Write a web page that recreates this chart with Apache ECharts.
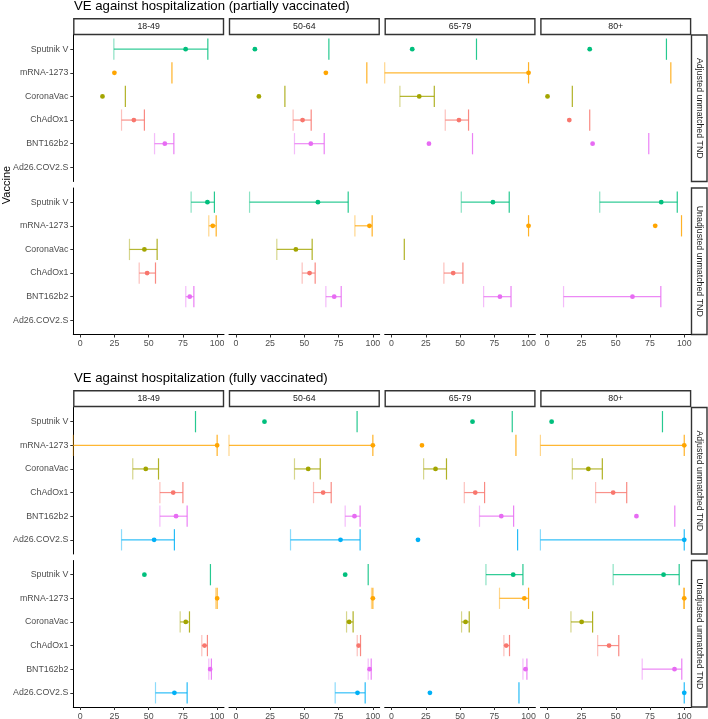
<!DOCTYPE html>
<html>
<head>
<meta charset="utf-8">
<script src="https://cdn.jsdelivr.net/npm/echarts@6/dist/echarts.min.js"></script>
<style>html,body{margin:0;padding:0;background:#fff}#c{width:708px;height:719px}</style>
</head>
<body>
<div id="c"></div>
<script>
// ---------- data ----------
const vaccines = ['Sputnik V','mRNA-1273','CoronaVac','ChAdOx1','BNT162b2','Ad26.COV2.S'];
const vaccineColors = ['#00BF7D','#FFA500','#A3A500','#F8766D','#E76BF3','#00B0F6'];
const ageGroups = ['18-49','50-64','65-79','80+'];
const rowLabels = ['Adjusted unmatched TND','Unadjusted unmatched TND'];
const panelTitles = ['VE against hospitalization (partially vaccinated)','VE against hospitalization (fully vaccinated)'];
const xTicks = [0,25,50,75,100];

// partially vaccinated, adjusted: [age group][vaccine]
const partAdjEst = [[77,25,16.3,39.2,61.8,null],[13.9,65.7,16.8,48.7,54.7,null],[15.1,100,20.2,49.2,27.3,null],[31,null,0.2,16.1,33.1,null]];
const partAdjLo  = [[24.6,null,null,30.2,54.3,null],[null,null,null,41.8,42.8,null],[null,-5,6.1,39.2,null,null],[null,null,null,null,null,null]];
const partAdjHi  = [[93.2,67,33,46.9,68.4,null],[67.9,95.6,35.8,55,64.5,null],[62,100,31.2,56.2,59.1,null],[87,90.2,18.3,31,74.1,null]];
// partially vaccinated, unadjusted
const partUnadjEst = [[92.9,96.8,46.9,48.9,80,null],[59.9,97.5,43.8,53.8,71.8,null],[74,100,null,45,79.1,null],[83.2,78.8,null,null,62.2,null]];
const partUnadjLo  = [[81,93.9,36,43.1,77.1,null],[10,86.9,29.9,48.4,65.7,null],[50.9,null,null,38.2,67.2,null],[38.3,null,null,null,11.9,null]];
const partUnadjHi  = [[98,99.3,56.2,55,83,null],[82,99.5,55.7,57.9,76.9,null],[85.9,100,9.3,52.1,87.2,null],[94.9,98,null,null,82.9,null]];
// fully vaccinated, adjusted
const fullAdjEst = [[null,100,47.9,67.9,70,54],[20.9,100,52.8,63.7,86.6,76.4],[59.1,22.2,32.1,61.1,80.1,19.3],[3.2,100,30,48.1,65.1,100]];
const fullAdjLo  = [[null,-5,38.4,58.2,58.2,30.2],[null,-5,42.8,56.7,79.8,39.9],[null,null,23.4,53.1,64.2,null],[null,-5,18.3,35.3,null,-5]];
const fullAdjHi  = [[84.2,100,57.2,75,78.1,68.8],[88.5,100,61.6,69.6,90.7,90.7],[88.1,90.8,40.1,67.9,89.1,92],[84.1,100,40.2,58,93.1,100]];
// fully vaccinated, unadjusted
const fullUnadjEst = [[46.9,100,77.1,90.8,94.9,68.8],[79.8,100,82.7,89.6,97.6,88.8],[88.8,96.9,54,83.7,97.8,28],[84.9,100,25.1,45.1,92.9,100]];
const fullUnadjLo  = [[null,99,73,88.8,93.9,55],[null,99,80.8,88.6,96.6,72.5],[68.9,78.8,51.1,82,95.9,null],[48.1,99.5,17.3,36.8,69.3,null]];
const fullUnadjHi  = [[95.1,100,79.8,92.9,95.8,78.1],[96.6,100,85.6,91,98.8,94.4],[95.9,100,56.7,86.1,98.8,93],[96.3,100,33.1,52.2,98.2,100]];

const blocks = [
  [partAdjEst, partAdjLo, partAdjHi],
  [partUnadjEst, partUnadjLo, partUnadjHi],
  [fullAdjEst, fullAdjLo, fullAdjHi],
  [fullUnadjEst, fullUnadjLo, fullUnadjHi]
];

// ---------- layout ----------
const FONT = '"Liberation Sans", Arial, Helvetica, sans-serif';
const colLeft0 = 73.3, colPitch = 155.7, colW = 150.7;
const rowTops = [35, 188, 407.5, 560.5], rowH = 146.5;
const stripTops = [18.7, 390.7], stripH = 15.8;
const titleTops = [-0.5, 371.5];

const grids = [], xAxes = [], yAxes = [], series = [];
const XMIN = -5, XMAX = 105;

function renderItem(params, api) {
  const yi = api.value(0);
  const est = api.value(1), lo = api.value(2), hi = api.value(3);
  const col = vaccineColors[yi - 1];
  const clampX = v => Math.max(XMIN, Math.min(XMAX, v));
  const half = 0.45;
  const children = [];
  const ok = v => v !== null && v !== undefined && !isNaN(v);
  if (ok(lo) && ok(hi)) {
    const a = api.coord([clampX(lo), yi]), b = api.coord([clampX(hi), yi]);
    children.push({type:'line', shape:{x1:a[0],y1:a[1],x2:b[0],y2:b[1]}, style:{stroke:col,lineWidth:1.2,opacity:0.8}});
  }
  function cap(v, op) {
    const t = api.coord([clampX(v), yi - half]), bt = api.coord([clampX(v), yi + half]);
    children.push({type:'line', shape:{x1:t[0],y1:t[1],x2:bt[0],y2:bt[1]}, style:{stroke:col,lineWidth:1.2,opacity:op}});
  }
  if (ok(lo)) cap(lo, 0.45);
  if (ok(hi)) cap(hi, 0.85);
  if (ok(est)) {
    const p = api.coord([est, yi]);
    children.push({type:'circle', shape:{cx:p[0],cy:p[1],r:2.4}, style:{fill:col}});
  }
  return {type:'group', children};
}

let gi = 0;
for (let b = 0; b < 4; b++) {
  const isBottomRow = (b % 2) === 1;
  const [E, L, H] = blocks[b];
  for (let c = 0; c < 4; c++) {
    grids.push({left: colLeft0 + c * colPitch, top: rowTops[b], width: colW, height: rowH, containLabel: false, outerBoundsMode: 'none'});
    xAxes.push({
      gridIndex: gi, type: 'value', min: XMIN, max: XMAX,
      axisLine: {show: isBottomRow, onZero: false, lineStyle: {color: '#000', width: 1}},
      axisTick: {show: isBottomRow, length: 3, lineStyle: {color: '#333'}, customValues: xTicks},
      axisLabel: {show: isBottomRow, margin: 5, color: '#4D4D4D', fontSize: 8.8, fontFamily: FONT, customValues: xTicks},
      splitLine: {show: false}
    });
    yAxes.push({
      gridIndex: gi, type: 'value', min: 0.4, max: 6.6, inverse: true,
      axisLine: {show: c === 0, onZero: false, lineStyle: {color: '#000', width: 1}},
      axisTick: {show: c === 0, length: 3, lineStyle: {color: '#333'}, customValues: [1,2,3,4,5,6]},
      axisLabel: {show: c === 0, margin: 5, color: '#4D4D4D', fontSize: 8.8, fontFamily: FONT,
        customValues: [1,2,3,4,5,6], formatter: v => vaccines[Math.round(v) - 1] || ''},
      splitLine: {show: false}
    });
    const data = [];
    for (let v = 0; v < vaccines.length; v++) {
      const e = E[c][v], l = L[c][v], h = H[c][v];
      if (e === null && l === null && h === null) continue;
      data.push([v + 1, e === null ? '-' : e, l === null ? '-' : l, h === null ? '-' : h]);
    }
    series.push({
      type: 'custom', xAxisIndex: gi, yAxisIndex: gi, renderItem,
      encode: {x: [1, 2, 3], y: 0}, data, silent: true, animation: false
    });
    gi++;
  }
}

// ---------- graphics: titles, strips ----------
const graphic = [];
for (let p = 0; p < 2; p++) {
  graphic.push({type:'text', left: 74, top: titleTops[p], style:{text: panelTitles[p], fill:'#000', font: '13.2px ' + FONT}});
  for (let c = 0; c < 4; c++) {
    const x = colLeft0 + c * colPitch;
    graphic.push({type:'rect', shape:{x: x + 0.5, y: stripTops[p], width: colW - 1, height: stripH},
      style:{fill:'#fff', stroke:'#333', lineWidth:1.4}});
    graphic.push({type:'text', x: x + colW / 2, y: stripTops[p] + stripH / 2,
      style:{text: ageGroups[c], fill:'#1A1A1A', font:'8.8px ' + FONT, align:'center', verticalAlign:'middle'}});
  }
  for (let r = 0; r < 2; r++) {
    const top = rowTops[p * 2 + r];
    graphic.push({type:'rect', shape:{x: 691.5, y: top, width: 15.5, height: rowH},
      style:{fill:'#fff', stroke:'#333', lineWidth:1.4}});
    graphic.push({type:'text', x: 699.3, y: top + rowH / 2, rotation: -Math.PI / 2,
      style:{text: rowLabels[r], fill:'#1A1A1A', font:'8.8px ' + FONT, align:'center', verticalAlign:'middle'}});
  }
}
graphic.push({type:'text', x: 6.5, y: 185, rotation: Math.PI / 2,
  style:{text:'Vaccine', fill:'#000', font:'11px ' + FONT, align:'center', verticalAlign:'middle'}});

const chart = echarts.init(document.getElementById('c'), null, {renderer:'canvas'});
chart.setOption({
  animation: false,
  backgroundColor: '#fff',
  grid: grids, xAxis: xAxes, yAxis: yAxes, series, graphic
});
</script>
</body>
</html>
